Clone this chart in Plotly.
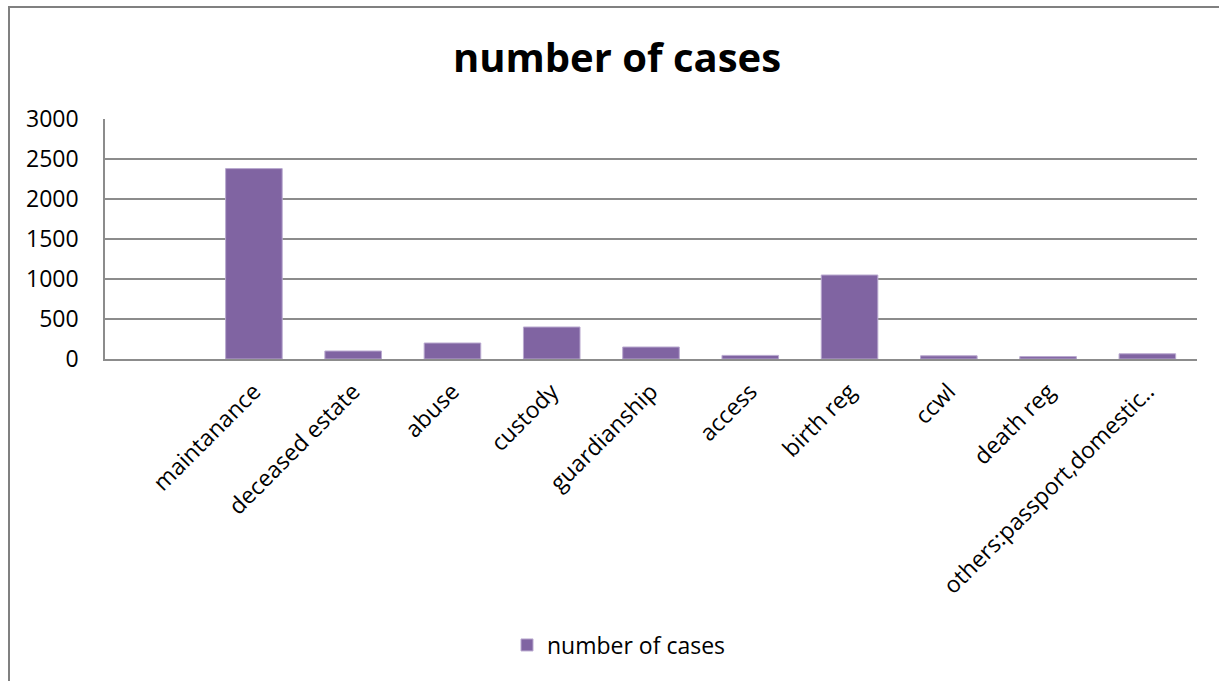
import plotly.graph_objects as go

# Case counts by category (leading blank slot is an unlabeled, empty category)
categories = [" ", "maintanance", "deceased estate", "abuse", "custody", "guardianship",
              "access", "birth reg", "ccwl", "death reg", "others:passport,domestic.."]
cases = [None, 2380, 100, 200, 400, 150, 45, 1050, 40, 30, 65]
y_ticks = [0, 500, 1000, 1500, 2000, 2500, 3000]

W, H = 1219, 681
L, R, T, B = 105, 22, 119, 322
pw, ph = W - L - R, H - T - B

def px_x(x):
    return (x - L) / pw

def px_y(y):
    return (H - B - y) / ph

FONT = "Open Sans"
BAR = "#8064A2"
GRID = "#8C8C8C"

fig = go.Figure()
fig.add_trace(go.Bar(
    x=categories, y=cases, name="number of cases",
    marker=dict(color=BAR, line=dict(color="#B9A9CF", width=1)),
    showlegend=True,
))

fig.update_layout(
    width=W, height=H,
    margin=dict(l=L, r=R, t=T, b=B, pad=0),
    paper_bgcolor="white", plot_bgcolor="white",
    bargap=0.43,
    font=dict(family=FONT, color="#000000", size=23),
    title=dict(text="<b>number of cases</b>", x=617 / W, xref="container", xanchor="center",
               y=1 - 58 / H, yref="container", yanchor="middle",
               font=dict(family=FONT, size=40, color="#000000")),
    xaxis=dict(type="category", tickangle=-45, showgrid=False, showline=True,
               linecolor=GRID, linewidth=2, ticks="", tickfont=dict(size=23),
               automargin=False, ticklabelstandoff=8),
    yaxis=dict(range=[0, 3000], tickvals=y_ticks, showgrid=True, gridcolor=GRID,
               gridwidth=1.5, showline=True, linecolor=GRID, linewidth=1.5,
               ticks="", tickfont=dict(size=23), zeroline=False, automargin=False,
               ticklabelstandoff=20),
    legend=dict(orientation="h", x=px_x(619), xanchor="center", y=px_y(645),
                yanchor="middle", font=dict(size=23)),
    shapes=[
        dict(type="line", xref="paper", yref="paper", x0=px_x(8), x1=px_x(W + 5),
             y0=px_y(7), y1=px_y(7), line=dict(color="#808080", width=2)),
        dict(type="line", xref="paper", yref="paper", x0=px_x(9), x1=px_x(9),
             y0=px_y(7), y1=px_y(H + 5), line=dict(color="#808080", width=2)),
    ],
)

fig.write_html("out.html")
